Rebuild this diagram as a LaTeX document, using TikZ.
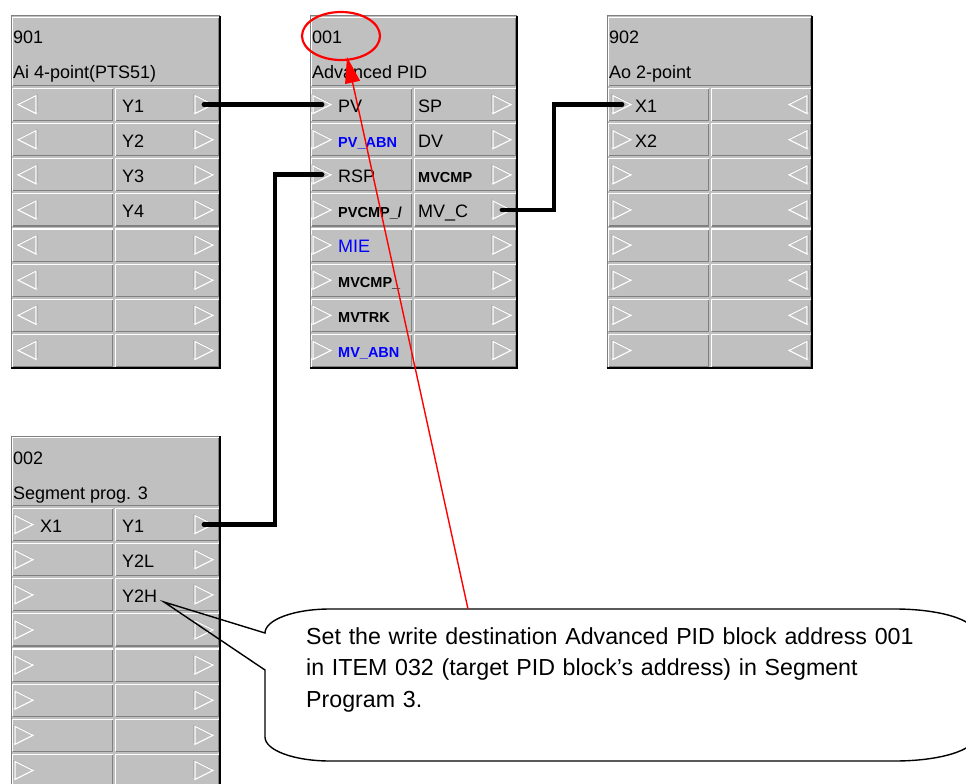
\documentclass[tikz,border=0pt]{standalone}
\usepackage{fontspec}
\setmainfont{Liberation Sans}
\usetikzlibrary{arrows.meta}
\definecolor{facegray}{HTML}{C0C0C0}
\definecolor{shadegray}{HTML}{808080}
\definecolor{pinblue}{HTML}{0000FF}
\definecolor{marker}{HTML}{FF0000}

\begin{document}
\begin{tikzpicture}[
  x=1pt, y=-1pt,
  every node/.style={font=\fontsize{18}{21}\selectfont, inner sep=0pt},
  lbl/.style={anchor=west, text height=15pt, text depth=0pt},
  tag/.style={lbl, font=\fontsize{14.5}{16}\selectfont\bfseries},
  abn/.style={text=pinblue},
  lit/.style={white, line width=1.2pt},
  shade/.style={shadegray, line width=1.2pt},
  outline/.style={shadegray, line width=1pt},
  rim/.style={black, line width=1.8pt},
  wire/.style={black, line width=4.8pt, line cap=round},
  redring/.style={marker, line width=2.2pt},
  pointer/.style={marker, line width=1.4pt, -{Triangle[length=26pt, width=15pt]}},
  callout/.style={black, line width=1.4pt},
  note/.style={anchor=base west, text width=640pt, align=left,
               font=\fontsize{23.2}{31.5}\selectfont},
  port/.pic={
    \draw[shadegray!90, line width=1pt] (-9.8,7.5) -- (-9.8,-9.6) -- (8.2,-0.8);
    \draw[white, line width=1.1pt, line join=miter] (-9,-9) -- (9,0) -- (-9,9) -- cycle;
  }
]
\useasboundingbox (0,0) rectangle (966,784);

%% ==== 四個功能塊: 外框與格子 ========================================
\foreach \bx/\by/\bw/\bs in {11/16/209/103, 310/16/207/103,
                             607/16/205/103, 11/436/209/103} {
  \begin{scope}[shift={(\bx,\by)}]
    \fill[facegray] (0,0) rectangle (\bw,352);
    \draw[shade] (1.5,69.5) -- (\bw-1.5,69.5) -- (\bw-1.5,1.5);
    \draw[lit] (1.5,69.5) -- (1.5,1.5) -- (\bw-1.5,1.5);
    \foreach \r in {0,...,7} {
      \pgfmathsetmacro\ya{71+\r*35.125}
      \pgfmathsetmacro\yb{\ya+35.125}
      \foreach \ca/\cb in {0/\bs, \bs/\bw} {
        \draw[shade] (\ca+1.5,\yb-1.5) -- (\cb-1.5,\yb-1.5) -- (\cb-1.5,\ya+1.5);
        \draw[lit] (\ca+1.5,\yb-1.5) -- (\ca+1.5,\ya+1.5) -- (\cb-1.5,\ya+1.5);
      }
    }
    \draw[outline] (0,352) -- (0,0) -- (\bw,0);
    \draw[rim] (0,352) -- (\bw,352) -- (\bw,0);
  \end{scope}
}

%% ==== 端子三角形 ====================================================
\foreach \i in {0,...,7} {
  \pgfmathsetmacro\yc{104.56+35.125*\i}
  \pic[xscale=-1] at (27,\yc) {port};
  \pic at (204,\yc) {port};  \coordinate (ai-o\i) at (204,\yc);
  \pic at (322,\yc) {port};  \coordinate (pid-i\i) at (322,\yc);
  \pic at (502,\yc) {port};  \coordinate (pid-o\i) at (502,\yc);
  \pic at (622,\yc) {port};  \coordinate (ao-i\i) at (622,\yc);
  \pic[xscale=-1] at (798,\yc) {port};
}
\foreach \i in {0,...,7} {
  \pgfmathsetmacro\yc{524.56+35.125*\i}
  \pic at (24,\yc) {port};
  \pic at (204,\yc) {port};  \coordinate (seg-o\i) at (204,\yc);
}

%% ==== 901: Ai 4-point ==============================================
\node[lbl] (ai-no)   at (13,35.6) {901};
\node[lbl] (ai-name) at (13,70.6) {Ai 4-point(PTS51)};
\foreach \t [count=\i from 0] in {Y1,Y2,Y3,Y4}
  \node[lbl] (ai-y\i) at (122,104.56+35.125*\i) {\t};

%% ==== 001: Advanced PID ============================================
\node[lbl] (pid-no)   at (312,35.6) {001};
\node[lbl] (pid-name) at (312,70.6) {Advanced PID};
\node[lbl]      (pid-pv)    at (338,104.56) {PV};
\node[tag, abn] (pid-pvabn) at (338,139.69) {PV\_ABN};
\node[lbl]      (pid-rsp)   at (338,174.81) {RSP};
\node[tag]      (pid-pvcmp) at (338,209.94) {PVCMP\_/};
\node[lbl, abn] (pid-mie)   at (338,245.06) {MIE};
\node[tag]      (pid-mvcmpa) at (338,280.19) {MVCMP\_};
\node[tag]      (pid-mvtrk) at (338,315.31) {MVTRK};
\node[tag, abn] (pid-mvabn) at (338,350.44) {MV\_ABN};
\node[lbl]      (pid-sp)    at (418,104.56) {SP};
\node[lbl]      (pid-dv)    at (418,139.69) {DV};
\node[tag]      (pid-mvcmp) at (418,174.81) {MVCMP};
\node[lbl]      (pid-mvc)   at (418,209.94) {MV\_C};

%% ==== 902: Ao 2-point ==============================================
\node[lbl] (ao-no)   at (609,35.6) {902};
\node[lbl] (ao-name) at (609,70.6) {Ao 2-point};
\node[lbl] (ao-x1) at (635,104.56) {X1};
\node[lbl] (ao-x2) at (635,139.69) {X2};

%% ==== 002: Segment prog. 3 =========================================
\node[lbl] (seg-no)   at (13,456.6) {002};
\node[lbl] (seg-name) at (13,491.6) {Segment prog. 3};
\node[lbl] (seg-x1)  at (40,524.56) {X1};
\node[lbl] (seg-y1)  at (122,524.56) {Y1};
\node[lbl] (seg-y2l) at (122,559.69) {Y2L};
\node[lbl] (seg-y2h) at (122,594.81) {Y2H};

%% ==== 連線 ==========================================================
\draw[wire] (ai-o0) -- (pid-i0);
\draw[wire] (seg-o0) -- ++(71,0) |- (pid-i2);
\draw[wire] (pid-o3) -- ++(52,0) |- (ao-i0);

%% ==== 說明框與紅色標記 ==============================================
\coordinate (calltip) at (164,602);
\draw[callout] (calltip) -- (265,633)
  .. controls (265,619.7) and (294.1,609) .. (330,609) -- (895,609)
  .. controls (939.2,609) and (975,619.7) .. (975,633) -- (975,737)
  .. controls (975,750.3) and (939.2,761) .. (895,761) -- (330,761)
  .. controls (294.1,761) and (265,750.3) .. (265,737) -- (265,670) -- cycle;
\node[note] (note) at (306,644)
  {Set the write destination Advanced PID block address 001\\
   in ITEM 032 (target PID block’s address) in Segment\\
   Program 3.};

\draw[redring] (341,36) ellipse [x radius=39, y radius=24];
\coordinate (notetop) at (468,609);
\coordinate (ringtip) at (347,57);
\draw[pointer] (notetop) -- (ringtip);

\end{tikzpicture}
\end{document}
